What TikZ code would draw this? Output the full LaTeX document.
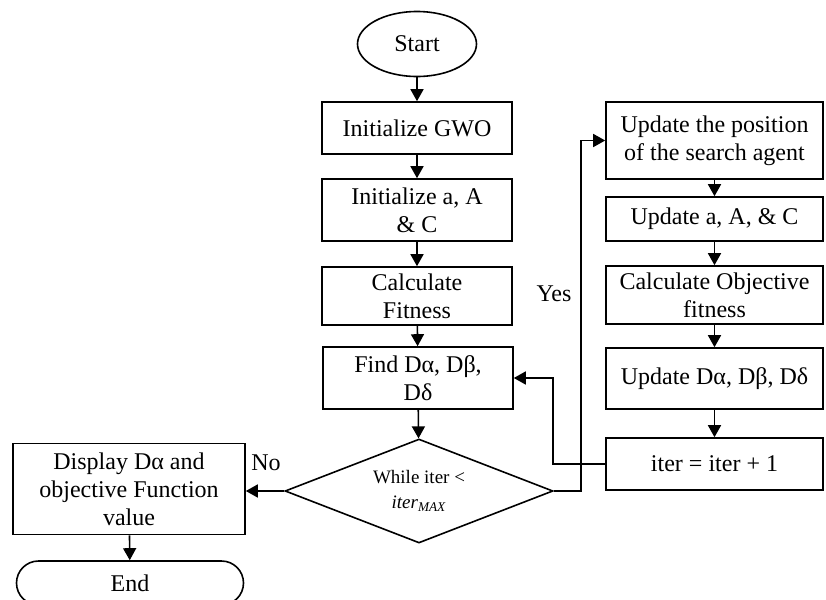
\documentclass[tikz,border=0pt]{standalone}
\usepackage{fontspec}
\setmainfont{Liberation Serif}
\usetikzlibrary{arrows.meta,shapes.geometric,shapes.misc}

\begin{document}
\begin{tikzpicture}[x=0.5pt,y=-0.5pt,
    box/.style={draw,line width=0.8pt,rectangle,align=center,inner sep=1pt,font=\fontsize{12}{14}\selectfont},
    lbox/.style={box,minimum width=95pt},
    rbox/.style={box,minimum width=108.5pt},
    arr/.style={line width=0.8pt,-{Triangle[length=6pt,width=6.5pt]}}]
            \useasboundingbox (0,0) rectangle (826,600);

            \node[box,ellipse,minimum width=59.5pt,minimum height=32.5pt] (start) at (417,44) {Start};
            \node[lbox,minimum height=26pt] (init) at (417,128) {Initialize GWO};
            \node[lbox,minimum height=31pt] (initA) at (417,210) {Initialize a, A\\ \& C};
            \node[lbox,minimum height=29pt] (calcfit) at (417,296) {Calculate\\ Fitness};
            \node[lbox,minimum height=31pt] (find) at (418,378) {Find Dα, Dβ,\\ Dδ};
            \node[box,diamond,shape aspect=2.6,inner sep=0pt,minimum width=134pt,minimum height=52pt,font=\fontsize{9.5}{12.5}\selectfont] (loop) at (419,491) {While iter <\\ {\itshape iter}\textsubscript{\itshape MAX}};

            \node[box,minimum width=116pt,minimum height=45.5pt] (display) at (129,489) {Display Dα and\\ objective Function\\ value};
            \node[box,rounded rectangle,minimum width=115.5pt,minimum height=22pt] (endn) at (130,583) {End};

            \node[rbox,minimum height=38.5pt] (upos) at (714.5,140.5) {Update the position\\ of the search agent};
            \node[rbox,minimum height=22pt] (upa) at (714.5,219) {Update a, A, \& C};
            \node[rbox,minimum height=29pt] (calcobj) at (714.5,295) {Calculate Objective\\ fitness};
            \node[rbox,minimum height=30.5pt] (updD) at (714.5,378.5) {Update Dα, Dβ, Dδ};
            \node[rbox,minimum height=26pt] (iter) at (714.5,464) {iter = iter + 1};

            \draw[arr] (start) -- (init);
            \draw[arr] (init) -- (initA);
            \draw[arr] (initA) -- (calcfit);
            \draw[arr] (calcfit) -- (find);
            \draw[arr] (find) -- (loop);
            \draw[arr] (loop.west) -- (loop.west -| display.east);
            \draw[arr] (display) -- (endn);

            \draw[arr] (loop.east) -- ++(27,0) |- (upos.west);
            \draw[arr] (upos) -- (upa);
            \draw[arr] (upa) -- (calcobj);
            \draw[arr] (calcobj) -- (updD);
            \draw[arr] (updD) -- (iter);
            \draw[arr] (iter.west) -- ++(-52,0) |- (find.east);

            \node[font=\fontsize{12}{14}\selectfont] (yes) at (554,294) {Yes};
            \node[font=\fontsize{12}{14}\selectfont] (no) at (266,463) {No};
        \end{tikzpicture}
\end{document}
